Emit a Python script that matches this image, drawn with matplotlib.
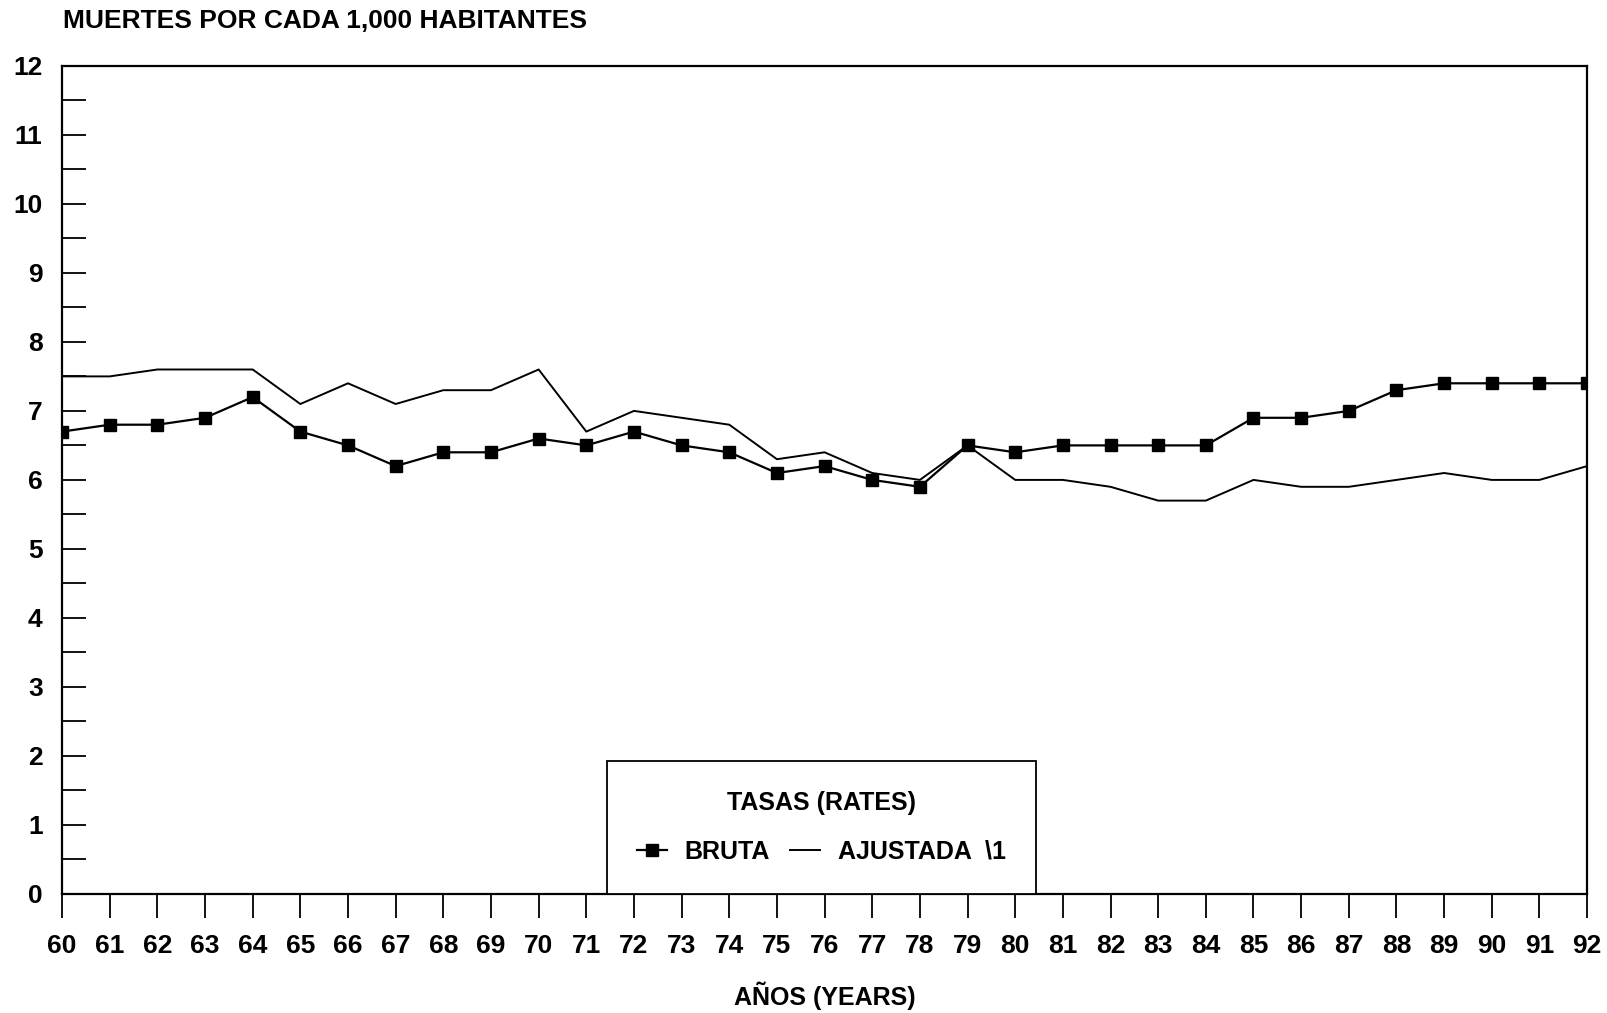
import numpy as np
import matplotlib
matplotlib.use('Agg')
import matplotlib.pyplot as plt
from matplotlib.ticker import MultipleLocator

# Datos: tasas de mortalidad por cada 1,000 habitantes
years = list(range(60, 93))
bruta = [6.7, 6.8, 6.8, 6.9, 7.2, 6.7, 6.5, 6.2, 6.4, 6.4, 6.6,
         6.5, 6.7, 6.5, 6.4, 6.1, 6.2, 6.0, 5.9, 6.5, 6.4, 6.5,
         6.5, 6.5, 6.5, 6.9, 6.9, 7.0, 7.3, 7.4, 7.4, 7.4, 7.4]
ajustada = [7.5, 7.5, 7.6, 7.6, 7.6, 7.1, 7.4, 7.1, 7.3, 7.3, 7.6,
            6.7, 7.0, 6.9, 6.8, 6.3, 6.4, 6.1, 6.0, 6.5, 6.0, 6.0,
            5.9, 5.7, 5.7, 6.0, 5.9, 5.9, 6.0, 6.1, 6.0, 6.0, 6.2]
year_labels = [str(y) for y in years]

plt.rcParams['font.family'] = ['Liberation Sans', 'DejaVu Sans']
plt.rcParams['font.weight'] = 'bold'

fig = plt.figure(figsize=(16.08, 10.13), dpi=100)
ax = fig.add_axes([0.0386, 0.1175, 0.9484, 0.8175])

ax.plot(years, bruta, color='black', lw=1.6, marker='s', markersize=8,
        label='BRUTA')
ax.plot(years, ajustada, color='black', lw=1.4, label='AJUSTADA  \\1')

ax.set_xlim(60, 92)
ax.set_ylim(0, 12)
ax.set_xticks(years)
ax.set_xticklabels(year_labels)
ax.yaxis.set_major_locator(MultipleLocator(1))
ax.yaxis.set_minor_locator(MultipleLocator(0.5))
ax.tick_params(axis='y', which='both', direction='in', length=17, width=1.3,
               labelsize=19, pad=14)
ax.tick_params(axis='x', direction='out', length=17, width=1.3,
               labelsize=19, pad=12)
for lbl in ax.get_xticklabels() + ax.get_yticklabels():
    lbl.set_fontweight('bold')
for sp in ax.spines.values():
    sp.set_linewidth(1.6)

ax.set_xlabel('AÑOS (YEARS)', fontsize=18, fontweight='bold', labelpad=17)
fig.text(0.039, 0.979, 'MUERTES POR CADA 1,000 HABITANTES', fontsize=19,
         fontweight='bold', va='center', ha='left')

# Leyenda apoyada sobre el eje X
leg = ax.legend(loc='lower center', bbox_to_anchor=(0.498, 0.0),
                ncol=2, title='TASAS (RATES)', fancybox=False,
                edgecolor='black', framealpha=1, borderpad=1.2,
                borderaxespad=0, handlelength=1.2, handletextpad=0.7,
                columnspacing=0.8, prop={'size': 18, 'weight': 'bold'})
leg.get_title().set_fontsize(18)
leg.get_title().set_fontweight('bold')
leg.get_frame().set_linewidth(1.3)
leg._legend_box.sep = 18

fig.savefig('out.png', dpi=100)
